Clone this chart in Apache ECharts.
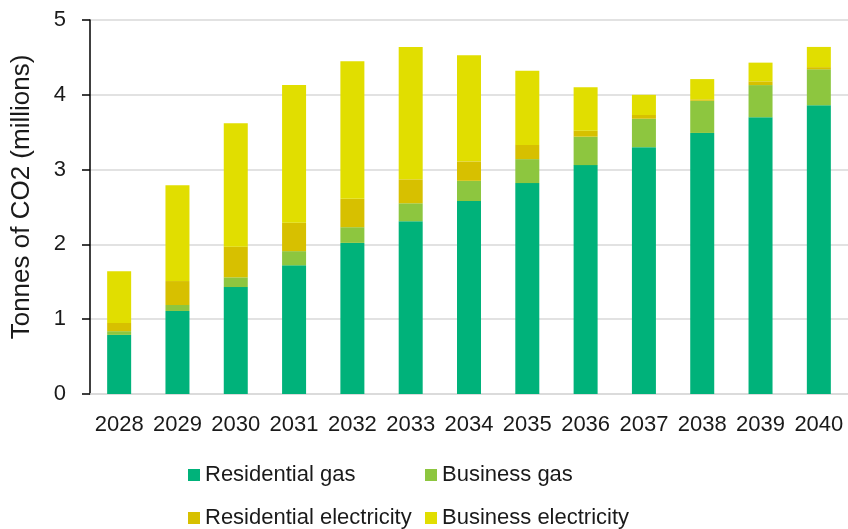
<!DOCTYPE html>
<html>
<head>
<meta charset="utf-8">
<script src="https://cdn.jsdelivr.net/npm/echarts@6/dist/echarts.min.js"></script>
<style>
  html, body { margin: 0; padding: 0; background: #fff; }
  #chart { width: 848px; height: 529px; }
</style>
</head>
<body>
<div id="chart"></div>
<script>
"use strict";

var years = ['2028', '2029', '2030', '2031', '2032', '2033', '2034', '2035', '2036', '2037', '2038', '2039', '2040'];
var residentialGas = [0.79, 1.11, 1.43, 1.72, 2.02, 2.31, 2.58, 2.82, 3.06, 3.30, 3.49, 3.70, 3.86];
var businessGas = [0.05, 0.08, 0.13, 0.19, 0.21, 0.24, 0.27, 0.32, 0.38, 0.38, 0.43, 0.43, 0.48];
var residentialElec = [0.11, 0.32, 0.41, 0.38, 0.38, 0.32, 0.26, 0.19, 0.08, 0.05, 0.02, 0.05, 0.03];
var businessElec = [0.69, 1.28, 1.65, 1.84, 1.84, 1.77, 1.42, 0.99, 0.58, 0.27, 0.27, 0.25, 0.27];

var FONT = 'Liberation Sans, Arial, sans-serif';
var TEXT_COLOR = '#1a1a1a';

var chart = echarts.init(document.getElementById('chart'));

function makeLegend(name, left, top) {
	return {
		data: [name],
		left: left,
		top: top,
		padding: 0,
		icon: 'rect',
		itemWidth: 12,
		itemHeight: 12,
		selectedMode: false,
		textStyle: { fontFamily: FONT, fontSize: 22, color: TEXT_COLOR }
	};
}

function makeSeries(name, data, color) {
	return {
		name: name,
		type: 'bar',
		stack: 'total',
		barWidth: 24,
		itemStyle: { color: color },
		emphasis: { disabled: true },
		data: data
	};
}

chart.setOption({
	animation: false,
	grid: {
		left: 90,
		right: 0,
		top: 20,
		bottom: 135,
		containLabel: false,
		outerBoundsMode: 'none'
	},
	legend: [
		makeLegend('Residential gas', 188, 464),
		makeLegend('Business gas', 425, 464),
		makeLegend('Residential electricity', 188, 507),
		makeLegend('Business electricity', 425, 507)
	],
	xAxis: {
		type: 'category',
		data: years,
		axisLine: { lineStyle: { color: '#d9d9d9', width: 1.5 } },
		axisTick: { show: false },
		axisLabel: { interval: 0, fontFamily: FONT, fontSize: 22, color: TEXT_COLOR, margin: 20 }
	},
	yAxis: {
		type: 'value',
		min: 0,
		max: 5,
		interval: 1,
		name: 'Tonnes of CO2 (millions)',
		nameLocation: 'middle',
		nameGap: 55,
		nameTextStyle: { fontFamily: FONT, fontSize: 26, color: TEXT_COLOR, padding: [0, 0, 0, 20] },
		axisLine: { show: true, lineStyle: { color: '#000', width: 1.5 } },
		axisTick: { show: true, length: 8, lineStyle: { color: '#000', width: 1.5 } },
		axisLabel: { fontFamily: FONT, fontSize: 22, color: TEXT_COLOR, margin: 24 },
		splitLine: { lineStyle: { color: '#d9d9d9', width: 1.5 } }
	},
	series: [
		makeSeries('Residential gas', residentialGas, '#00b27a'),
		makeSeries('Business gas', businessGas, '#8dc63f'),
		makeSeries('Residential electricity', residentialElec, '#d7c000'),
		makeSeries('Business electricity', businessElec, '#e1de00')
	]
});
</script>
</body>
</html>
